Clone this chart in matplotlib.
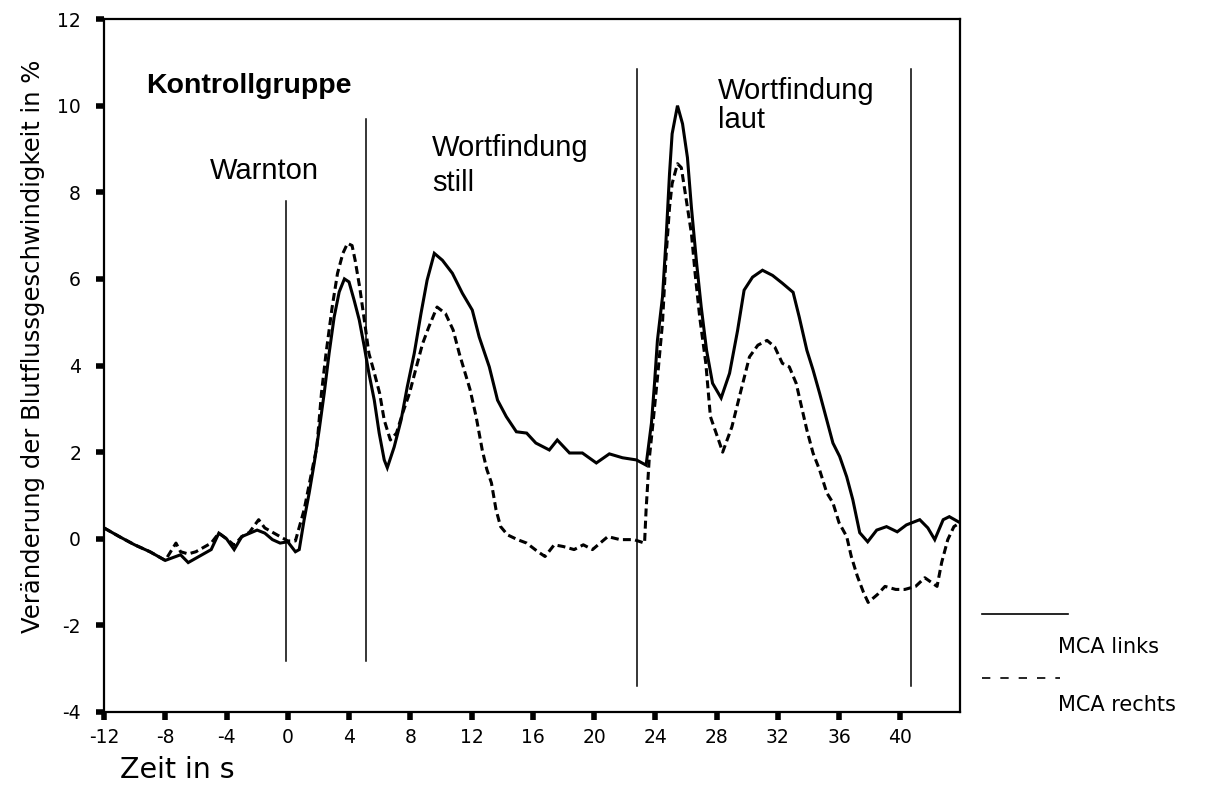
import matplotlib.pyplot as plt
from matplotlib.lines import Line2D

plt.rcParams['font.family'] = ['Liberation Sans', 'DejaVu Sans']
plt.rcParams['axes.unicode_minus'] = False

# --- Daten ---
zeit_links = [-12, -11, -10, -9, -8, -7, -6.5, -6, -5, -4.5, -4, -3.5, -3, -2, -1.5, -1, -0.5, 0, 0.5,
              0.75, 1.07, 1.4, 1.73, 2.05, 2.38, 2.7, 3.03, 3.36, 3.7, 4.0, 4.34, 4.67, 5.0, 5.3, 5.65,
              5.97, 6.3, 6.5, 6.95, 7.4, 7.8, 8.26, 8.7, 9.1, 9.57, 10.1, 10.75, 11.4, 12.05, 12.5,
              13.16, 13.7, 14.27, 14.93, 15.6, 16.2, 17.08, 17.6, 18.4, 19.24, 20.15, 21.0, 21.86,
              22.77, 23.4, 23.75, 23.95, 24.14, 24.47, 24.7, 24.93, 25.1, 25.45, 25.78, 26.1, 26.36,
              26.7, 27.0, 27.35, 27.74, 28.3, 28.85, 29.37, 29.8, 30.35, 31.0, 31.66, 32.3, 33.0,
              33.4, 33.9, 34.3, 34.73, 35.2, 35.6, 36.04, 36.5, 36.9, 37.35, 37.87, 38.46, 39.1,
              39.8, 40.4, 41.27, 41.8, 42.25, 42.8, 43.2, 43.9]
mca_links = [0.25, 0.05, -0.14, -0.3, -0.5, -0.37, -0.55, -0.45, -0.25, 0.13, 0.0, -0.25, 0.05, 0.2,
             0.13, -0.02, -0.1, -0.07, -0.3,
             -0.25, 0.44, 1.06, 1.75, 2.51, 3.36, 4.28, 5.12, 5.7, 6.0, 5.93, 5.5, 5.05, 4.43, 3.82,
             3.2, 2.44, 1.82, 1.64, 2.12, 2.74, 3.5, 4.28, 5.2, 5.97, 6.59, 6.43, 6.13, 5.67, 5.28,
             4.66, 3.97, 3.2, 2.82, 2.47, 2.44, 2.21, 2.05, 2.28, 1.98, 1.98, 1.75, 1.96, 1.87,
             1.82, 1.7, 2.67, 3.59, 4.58, 5.58, 6.89, 8.43, 9.35, 10.0, 9.58, 8.8, 7.65,
             6.36, 5.35, 4.35, 3.59, 3.25, 3.82, 4.8, 5.74, 6.04, 6.2, 6.08, 5.9, 5.69,
             5.12, 4.35, 3.9, 3.36, 2.74, 2.21, 1.9, 1.43, 0.9, 0.14, -0.07, 0.2, 0.28,
             0.16, 0.32, 0.44, 0.25, -0.02, 0.44, 0.51, 0.37]

zeit_rechts = [-12, -11, -10, -9, -8, -7.3, -7, -6.5, -6, -5.5, -5, -4.5, -4, -3.5, -3, -2.5, -1.9,
               -1.5, -1, -0.5, 0, 0.5,
               1.07, 1.5, 1.9, 2.2, 2.5, 2.9, 3.25, 3.6, 3.9, 4.2, 4.4, 4.7, 5.0, 5.3, 5.6, 6.0, 6.3,
               6.7, 7.1, 7.5, 7.95, 8.4, 8.8, 9.2, 9.75, 10.3, 10.8, 11.2, 11.9, 12.3, 12.7,
               13.0, 13.3, 13.6, 13.9, 14.35, 15.0, 15.6, 16.3, 16.8, 17.4, 18.0, 18.7, 19.3, 19.9,
               20.9, 21.7, 22.6, 23.3, 23.4, 23.6, 23.85, 24.17, 24.47, 24.7, 24.93, 25.1, 25.45,
               25.7, 26.0, 26.36, 26.6, 26.9, 27.3, 27.6, 28.2, 28.4, 29.0, 29.6, 30.15, 30.7,
               31.3, 31.8, 32.3, 32.75, 33.2, 33.6, 33.9, 34.3, 34.73, 35.2, 35.6, 36.0, 36.5,
               36.8, 37.2, 37.6, 37.9, 38.5, 39.0, 39.7, 40.3, 41.0, 41.6, 42.4, 42.7, 43.1,
               43.5, 43.9]
mca_rechts = [0.25, 0.05, -0.14, -0.3, -0.5, -0.1, -0.3, -0.35, -0.3, -0.2, -0.1, 0.13, 0.0, -0.15,
              0.05, 0.15, 0.44, 0.25, 0.15, 0.05, -0.05, -0.05,
              0.67, 1.43, 2.12, 3.36, 4.28, 5.35, 6.13, 6.59, 6.82, 6.77, 6.43, 5.8, 5.05, 4.28,
              3.9, 3.36, 2.74, 2.28, 2.44, 2.9, 3.36, 3.97, 4.5, 4.88, 5.35, 5.2, 4.82, 4.28, 3.45,
              2.82, 2.05, 1.6, 1.29, 0.67, 0.28, 0.09, -0.02, -0.1, -0.29, -0.41, -0.14, -0.18,
              -0.25, -0.14, -0.25, 0.05, -0.02, -0.02, -0.1, 0.67, 1.82, 2.67, 3.82, 4.98, 6.5,
              7.65, 8.2, 8.66, 8.57, 7.88, 7.05, 6.13, 5.12, 4.05, 2.82, 2.21, 2.0, 2.58, 3.43,
              4.2, 4.47, 4.58, 4.43, 4.05, 3.97, 3.59, 2.97, 2.51, 1.98, 1.59, 1.06, 0.83,
              0.37, 0.05, -0.41, -0.87, -1.24, -1.47, -1.29, -1.1, -1.17, -1.17, -1.1, -0.9, -1.1,
              -0.55, -0.02, 0.28, 0.37]

# Phasenmarken: x-Position, unteres und oberes Ende
marken_x = [-0.1, 5.1, 22.8, 40.7]
marken_unten = [-2.83, -2.83, -3.4, -3.4]
marken_oben = [7.8, 9.7, 10.85, 10.85]

x_ticks = list(range(-12, 41, 4))
y_ticks = list(range(-4, 13, 2))

# breitere Schrift fuer Achsenbeschriftung (im Original horizontal gestreckt)
breit = ['DejaVu Sans']

fig = plt.figure(figsize=(12.05, 8.10), dpi=100)
ax = fig.add_axes([0.0863, 0.121, 0.7104, 0.8555])

ax.plot(zeit_links, mca_links, color='black', lw=2.2, solid_joinstyle='miter')
ax.plot(zeit_rechts, mca_rechts, color='black', lw=2.2, linestyle=(0, (2.6, 1.4)))

for xm, yu, yo in zip(marken_x, marken_unten, marken_oben):
    ax.plot([xm, xm], [yu, yo], color='black', lw=1.1)

ax.set_xlim(-12, 43.9)
ax.set_ylim(-4, 12)
ax.set_xticks(x_ticks)
ax.set_yticks(y_ticks)
ax.tick_params(direction='out', length=5.5, width=4)
ax.tick_params(axis='y', pad=11)
ax.tick_params(axis='x', pad=6)
for lab in ax.get_xticklabels() + ax.get_yticklabels():
    lab.set_family(breit)
    lab.set_fontsize(13.5)
for sp in ax.spines.values():
    sp.set_linewidth(1.6)

ax.text(-9.25, 10.46, 'Kontrollgruppe', fontsize=20.5, fontweight='bold', va='center')
ax.text(-5.1, 8.5, 'Warnton', fontsize=21, va='center')
ax.text(9.44, 8.62, 'Wortfindung\nstill', fontsize=21, va='center', linespacing=1.3)
ax.text(28.1, 10.0, 'Wortfindung\nlaut', fontsize=21, va='center', linespacing=1.05)

fig.text(0.027, 0.572, 'Veränderung der Blutflussgeschwindigkeit in %', rotation=90,
         fontsize=17.5, family=breit, ha='center', va='center')
fig.text(0.1, 0.049, 'Zeit in s', fontsize=20.5, family=breit, ha='left', va='center')

# Legende (rechts unten, wie im Original)
fig.add_artist(Line2D([0.815, 0.886], [0.242, 0.242], color='black', lw=1.2))
fig.text(0.878, 0.201, 'MCA links', fontsize=15, family=breit, va='center')
fig.add_artist(Line2D([0.815, 0.88], [0.163, 0.163], color='black', lw=1.2,
                      linestyle=(0, (5, 6))))
fig.text(0.878, 0.130, 'MCA rechts', fontsize=15, family=breit, va='center')

fig.savefig('out.png', dpi=100)
